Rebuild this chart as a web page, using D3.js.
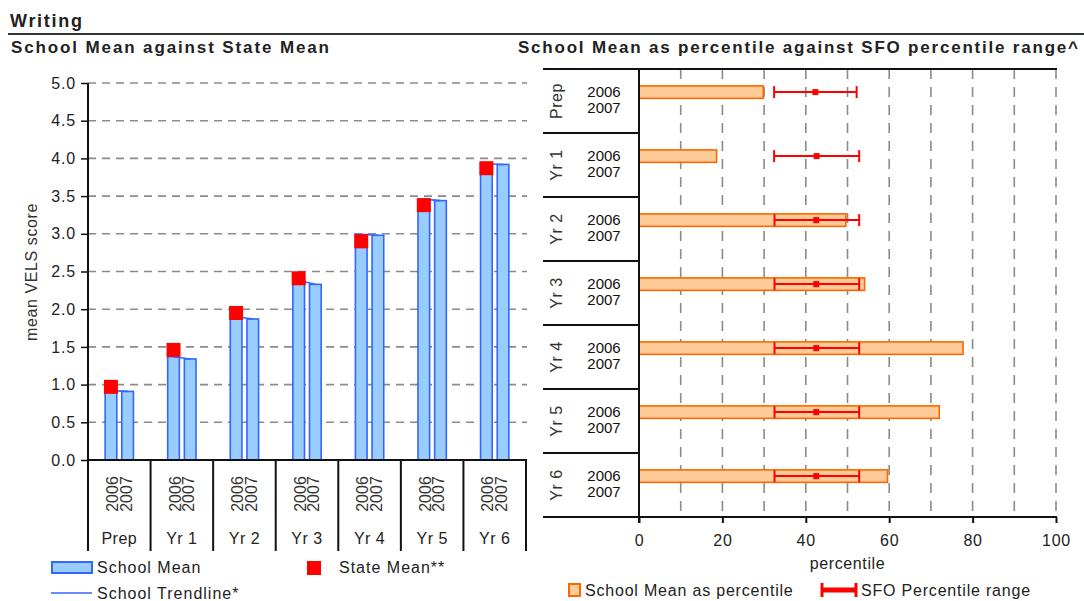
<!DOCTYPE html>
<html>
<head>
<meta charset="utf-8">
<script src="https://cdn.jsdelivr.net/npm/d3@7"></script>
<style>
  html, body { margin: 0; padding: 0; background: #fff; }
  svg { display: block; font-family: "Liberation Sans", Arial, sans-serif; }
</style>
</head>
<body>
<svg id="chart" width="1084" height="601"></svg>
<script>
// ---------- data ----------
const categories = ["Prep", "Yr 1", "Yr 2", "Yr 3", "Yr 4", "Yr 5", "Yr 6"];
const years = ["2006", "2007"];
const schoolMean2006 = [0.92, 1.37, 1.90, 2.38, 2.99, 3.46, 3.93];
const schoolMean2007 = [0.91, 1.34, 1.87, 2.33, 2.98, 3.44, 3.92];
const stateMean = [0.97, 1.46, 1.95, 2.41, 2.90, 3.38, 3.87];
const yTicks = [0, 0.5, 1, 1.5, 2, 2.5, 3, 3.5, 4, 4.5, 5];

const percentile2006 = [29.8, 18.6, 49.6, 54.1, 77.7, 72.0, 59.6];
const sfoLow = [32.4, 32.4, 32.5, 32.5, 32.5, 32.5, 32.5];
const sfoMid = [42.3, 42.6, 42.5, 42.5, 42.5, 42.5, 42.5];
const sfoHigh = [52.2, 52.8, 52.8, 52.8, 52.8, 52.8, 52.8];
const pctTicks = [0, 20, 40, 60, 80, 100];
const pctGrid = [10, 20, 30, 40, 50, 60, 70, 80, 90, 100];

// ---------- styles ----------
const TXT = "#222";
const GRID = "#8a8a8a";
const BLUE_FILL = "#99ccff", BLUE = "#3366ff";
const ORANGE_FILL = "#ffcc99", ORANGE = "#ff6600";
const RED = "#ff0000";

const svg = d3.select("#chart");

// ---------- header ----------
svg.append("text").attr("x", 10).attr("y", 27)
  .attr("font-size", 18).attr("font-weight", "bold").attr("fill", TXT)
  .attr("textLength", 72).attr("lengthAdjust", "spacing").text("Writing");
svg.append("line").attr("x1", 8).attr("x2", 1084).attr("y1", 34).attr("y2", 34)
  .attr("stroke", "#333").attr("stroke-width", 2);
svg.append("text").attr("x", 11).attr("y", 53)
  .attr("font-size", 17).attr("font-weight", "bold").attr("fill", TXT)
  .attr("textLength", 318).attr("lengthAdjust", "spacing")
  .text("School Mean against State Mean");
svg.append("text").attr("x", 518).attr("y", 53)
  .attr("font-size", 17).attr("font-weight", "bold").attr("fill", TXT)
  .attr("textLength", 560).attr("lengthAdjust", "spacing")
  .text("School Mean as percentile against SFO percentile range^");

// ---------- left chart ----------
const L = { x0: 88, x1: 526, yTop: 83, yBot: 460, boxBot: 551 };
const xCat = d3.scaleBand().domain(categories).range([L.x0, L.x1]).padding(0);
const xYear = d3.scaleBand().domain(years).range([-15, 15]).paddingInner(0.3).paddingOuter(0.05);
const y = d3.scaleLinear().domain([0, 5]).range([L.yBot, L.yTop]);

const gL = svg.append("g");

// gridlines
gL.selectAll("line.grid").data(yTicks.filter(d => d > 0)).join("line")
  .attr("x1", L.x0).attr("x2", 527)
  .attr("y1", d => y(d)).attr("y2", d => y(d))
  .attr("stroke", GRID).attr("stroke-width", 1.6).attr("stroke-dasharray", "8,6");

// y axis
const yAxis = d3.axisLeft(y).tickValues(yTicks).tickFormat(d3.format(".1f")).tickSize(7).tickPadding(5);
const gy = gL.append("g").attr("transform", `translate(${L.x0},0)`).call(yAxis);
gy.select(".domain").remove();
gy.selectAll(".tick line").attr("stroke", "#111").attr("stroke-width", 1.5);
gy.selectAll(".tick text").attr("font-size", 16).attr("fill", TXT)
  .attr("font-family", "Liberation Sans, Arial, sans-serif").attr("letter-spacing", 0.8);
gL.append("line").attr("x1", L.x0).attr("x2", L.x0).attr("y1", L.yTop).attr("y2", L.boxBot)
  .attr("stroke", "#111").attr("stroke-width", 2);

// axis label
gL.append("text").attr("transform", `translate(37,${272}) rotate(-90)`)
  .attr("text-anchor", "middle").attr("font-size", 16).attr("fill", "#333")
  .attr("letter-spacing", 0.6).text("mean VELS score");

// bars
const barData = [];
categories.forEach((c, i) => {
  barData.push({ cat: c, year: "2006", v: schoolMean2006[i] });
  barData.push({ cat: c, year: "2007", v: schoolMean2007[i] });
});
gL.selectAll("rect.bar").data(barData).join("rect")
  .attr("x", d => xCat(d.cat) + xCat.bandwidth() / 2 + xYear(d.year))
  .attr("width", xYear.bandwidth())
  .attr("y", d => y(d.v))
  .attr("height", d => y(0) - y(d.v))
  .attr("fill", BLUE_FILL).attr("stroke", BLUE).attr("stroke-width", 1.6);

// trendlines
const cx = (c, yr) => xCat(c) + xCat.bandwidth() / 2 + xYear(yr) + xYear.bandwidth() / 2;
gL.selectAll("line.trend").data(categories).join("line")
  .attr("x1", (c) => cx(c, "2006")).attr("y1", (c, i) => y(schoolMean2006[i]))
  .attr("x2", (c) => cx(c, "2007")).attr("y2", (c, i) => y(schoolMean2007[i]))
  .attr("stroke", BLUE).attr("stroke-width", 1.6);

// state mean squares
const sq = 14;
gL.selectAll("rect.state").data(categories).join("rect")
  .attr("x", c => cx(c, "2006") - sq / 2)
  .attr("y", (c, i) => y(stateMean[i]) - sq / 2)
  .attr("width", sq).attr("height", sq).attr("fill", RED);

// category box
gL.append("line").attr("x1", L.x0).attr("x2", L.x1 + 1).attr("y1", L.yBot).attr("y2", L.yBot)
  .attr("stroke", "#111").attr("stroke-width", 2);
gL.selectAll("line.sep").data(categories).join("line")
  .attr("x1", c => xCat(c) + xCat.bandwidth()).attr("x2", c => xCat(c) + xCat.bandwidth())
  .attr("y1", L.yBot).attr("y2", L.boxBot)
  .attr("stroke", "#111").attr("stroke-width", 2);
categories.forEach(c => {
  years.forEach(yr => {
    const xx = cx(c, yr) + (yr === "2006" ? 1 : -2);
    gL.append("text").attr("transform", `translate(${xx + 6},494) rotate(-90)`)
      .attr("text-anchor", "middle").attr("font-size", 16).attr("fill", "#333").text(yr);
  });
  gL.append("text").attr("x", xCat(c) + xCat.bandwidth() / 2).attr("y", 544)
    .attr("text-anchor", "middle").attr("font-size", 16).attr("fill", TXT)
    .attr("letter-spacing", 0.5).text(c);
});

// left legend
gL.append("rect").attr("x", 52).attr("y", 562).attr("width", 40).attr("height", 11)
  .attr("fill", BLUE_FILL).attr("stroke", BLUE).attr("stroke-width", 2);
gL.append("text").attr("x", 97).attr("y", 573).attr("font-size", 16).attr("fill", TXT)
  .attr("letter-spacing", 1).text("School Mean");
gL.append("line").attr("x1", 51).attr("x2", 92).attr("y1", 593).attr("y2", 593)
  .attr("stroke", BLUE).attr("stroke-width", 1.6);
gL.append("text").attr("x", 97).attr("y", 599).attr("font-size", 16).attr("fill", TXT)
  .attr("letter-spacing", 1).text("School Trendline*");
gL.append("rect").attr("x", 307).attr("y", 561).attr("width", 14).attr("height", 14).attr("fill", RED);
gL.append("text").attr("x", 339).attr("y", 573).attr("font-size", 16).attr("fill", TXT)
  .attr("letter-spacing", 1).text("State Mean**");

// ---------- right chart ----------
const R = { boxL: 543, x0: 639, x1: 1056, yTop: 69, yBot: 517 };
const xP = d3.scaleLinear().domain([0, 100]).range([R.x0, R.x1]);
const yRow = d3.scaleBand().domain(categories).range([R.yTop, R.yBot]).padding(0);
const ySub = d3.scaleBand().domain(years).range([16, 48]).paddingInner(0.3).paddingOuter(0.05);

const gR = svg.append("g");

// vertical dashed grid
gR.selectAll("line.vgrid").data(pctGrid).join("line")
  .attr("x1", d => xP(d)).attr("x2", d => xP(d))
  .attr("y1", R.yTop).attr("y2", R.yBot)
  .attr("stroke", GRID).attr("stroke-width", 1.6).attr("stroke-dasharray", "10,8");

// top border
gR.append("line").attr("x1", R.boxL).attr("x2", R.x1 + 1).attr("y1", R.yTop).attr("y2", R.yTop)
  .attr("stroke", "#111").attr("stroke-width", 2);

// bars
gR.selectAll("rect.pbar").data(categories).join("rect")
  .attr("x", xP(0))
  .attr("y", c => yRow(c) + ySub("2006"))
  .attr("width", (c, i) => xP(percentile2006[i]) - xP(0))
  .attr("height", ySub.bandwidth())
  .attr("fill", ORANGE_FILL).attr("stroke", ORANGE).attr("stroke-width", 1.6);

// error bars
const ey = c => yRow(c) + ySub("2006") + ySub.bandwidth() / 2;
const eg = gR.selectAll("g.err").data(categories).join("g");
eg.append("line")
  .attr("x1", (c, i) => xP(sfoLow[i])).attr("x2", (c, i) => xP(sfoHigh[i]))
  .attr("y1", ey).attr("y2", ey).attr("stroke", RED).attr("stroke-width", 2);
eg.append("line")
  .attr("x1", (c, i) => xP(sfoLow[i])).attr("x2", (c, i) => xP(sfoLow[i]))
  .attr("y1", c => ey(c) - 6).attr("y2", c => ey(c) + 6).attr("stroke", RED).attr("stroke-width", 2);
eg.append("line")
  .attr("x1", (c, i) => xP(sfoHigh[i])).attr("x2", (c, i) => xP(sfoHigh[i]))
  .attr("y1", c => ey(c) - 6).attr("y2", c => ey(c) + 6).attr("stroke", RED).attr("stroke-width", 2);
eg.append("rect")
  .attr("x", (c, i) => xP(sfoMid[i]) - 3).attr("y", c => ey(c) - 3)
  .attr("width", 6).attr("height", 6).attr("fill", RED);

// category box (left side)
gR.selectAll("line.rsep").data(categories).join("line")
  .attr("x1", R.boxL).attr("x2", R.x0)
  .attr("y1", c => yRow(c) + yRow.bandwidth()).attr("y2", c => yRow(c) + yRow.bandwidth())
  .attr("stroke", "#111").attr("stroke-width", 2);
gR.append("line").attr("x1", R.x0).attr("x2", R.x0).attr("y1", R.yTop).attr("y2", R.yBot + 6)
  .attr("stroke", "#111").attr("stroke-width", 2);
categories.forEach(c => {
  const mid = yRow(c) + yRow.bandwidth() / 2;
  gR.append("text").attr("transform", `translate(562,${mid}) rotate(-90)`)
    .attr("text-anchor", "middle").attr("font-size", 16).attr("fill", "#333")
    .attr("letter-spacing", 0.5).text(c);
  const y06 = yRow(c) + ySub("2006") + ySub.bandwidth() / 2 + 5;
  gR.append("text").attr("x", 604).attr("y", y06)
    .attr("text-anchor", "middle").attr("font-size", 15).attr("fill", "#111").text(years[0]);
  gR.append("text").attr("x", 604).attr("y", y06 + 16)
    .attr("text-anchor", "middle").attr("font-size", 15).attr("fill", "#111").text(years[1]);
});

// x axis
const xAxis = d3.axisBottom(xP).tickValues(pctTicks).tickSize(6).tickPadding(12);
const gx = gR.append("g").attr("transform", `translate(0,${R.yBot})`).call(xAxis);
gx.select(".domain").remove();
gx.selectAll(".tick line").attr("stroke", "#111").attr("stroke-width", 2);
gx.selectAll(".tick text").attr("font-size", 16).attr("fill", TXT)
  .attr("font-family", "Liberation Sans, Arial, sans-serif").attr("letter-spacing", 0.8);
gR.append("line").attr("x1", R.boxL).attr("x2", R.x1 + 1).attr("y1", R.yBot).attr("y2", R.yBot)
  .attr("stroke", "#111").attr("stroke-width", 2);
gR.append("text").attr("x", xP(50)).attr("y", 569).attr("text-anchor", "middle")
  .attr("font-size", 16).attr("fill", TXT).attr("letter-spacing", 0.6).text("percentile");

// right legend
gR.append("rect").attr("x", 569).attr("y", 584).attr("width", 11).attr("height", 12)
  .attr("fill", ORANGE_FILL).attr("stroke", ORANGE).attr("stroke-width", 2);
gR.append("text").attr("x", 585).attr("y", 596).attr("font-size", 16).attr("fill", TXT)
  .attr("letter-spacing", 0.8).text("School Mean as percentile");
gR.append("line").attr("x1", 822).attr("x2", 856).attr("y1", 590).attr("y2", 590)
  .attr("stroke", RED).attr("stroke-width", 5);
gR.append("line").attr("x1", 822).attr("x2", 822).attr("y1", 583).attr("y2", 597)
  .attr("stroke", RED).attr("stroke-width", 3);
gR.append("line").attr("x1", 856).attr("x2", 856).attr("y1", 583).attr("y2", 597)
  .attr("stroke", RED).attr("stroke-width", 3);
gR.append("text").attr("x", 861).attr("y", 596).attr("font-size", 16).attr("fill", TXT)
  .attr("letter-spacing", 0.8).text("SFO Percentile range");
</script>
</body>
</html>
